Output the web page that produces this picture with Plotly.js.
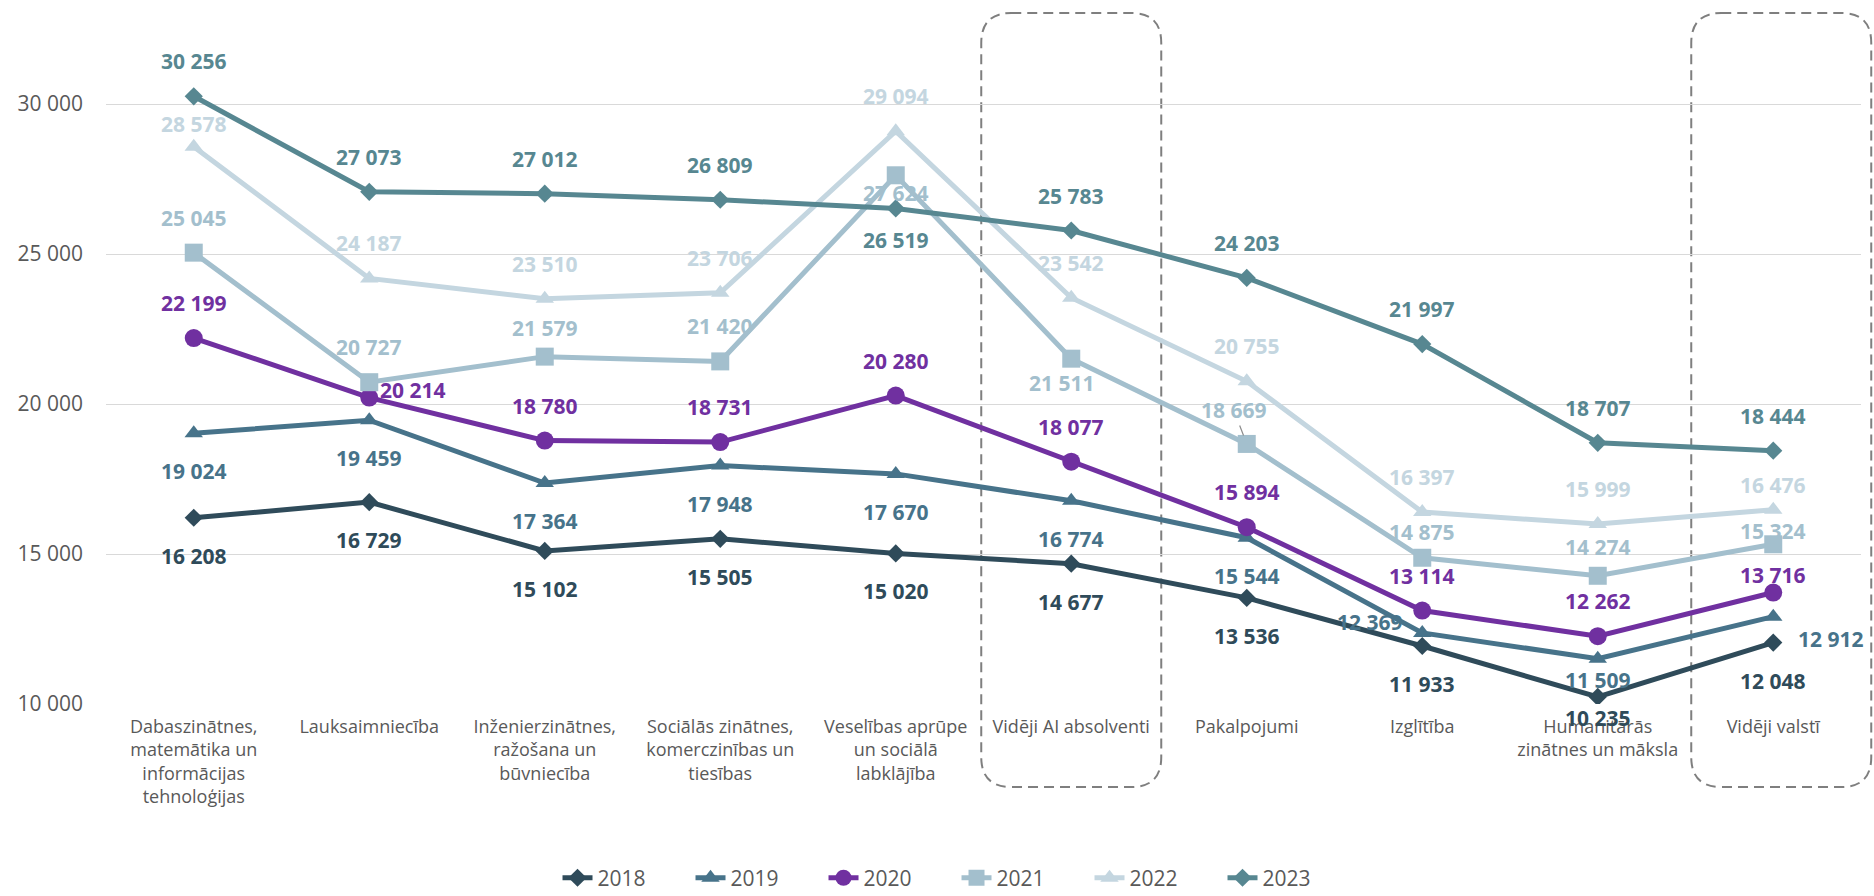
<!DOCTYPE html>
<html><head><meta charset="utf-8">
<script src="https://cdn.plot.ly/plotly-3.0.1.min.js"></script>
<style>html,body{margin:0;padding:0;background:#fff}#chart{width:1874px;height:896px}</style>
</head><body><div id="chart"></div>
<script>
// ---------- data ----------
const categories = [
  "Dabaszinātnes,<br>matemātika un<br>informācijas<br>tehnoloģijas",
  "Lauksaimniecība",
  "Inženierzinātnes,<br>ražošana un<br>būvniecība",
  "Sociālās zinātnes,<br>komerczinības un<br>tiesības",
  "Veselības aprūpe<br>un sociālā<br>labklājība",
  "Vidēji AI absolventi",
  "Pakalpojumi",
  "Izglītība",
  "Humanitārās<br>zinātnes un māksla",
  "Vidēji valstī"
];
const seriesNames = ["2018", "2019", "2020", "2021", "2022", "2023"];
const v2018 = [16208, 16729, 15102, 15505, 15020, 14677, 13536, 11933, 10235, 12048];
const v2019 = [19024, 19459, 17364, 17948, 17670, 16774, 15544, 12369, 11509, 12912];
const v2020 = [22199, 20214, 18780, 18731, 20280, 18077, 15894, 13114, 12262, 13716];
const v2021 = [25045, 20727, 21579, 21420, 27624, 21511, 18669, 14875, 14274, 15324];
const v2022 = [28578, 24187, 23510, 23706, 29094, 23542, 20755, 16397, 15999, 16476];
const v2023 = [30256, 27073, 27012, 26809, 26519, 25783, 24203, 21997, 18707, 18444];
const yTicks = [10000, 15000, 20000, 25000, 30000];
const highlighted = [5, 9]; // category indices framed by dashed boxes

// ---------- styles ----------
const values = [v2018, v2019, v2020, v2021, v2022, v2023];
const colors = ["#2F4B5A", "#47738A", "#7030A0", "#A3BFCD", "#C4D6E0", "#578791"];
const symbols = ["diamond", "triangle-up", "circle", "square", "triangle-up", "diamond"];
const msizes = [14, 16, 18, 18, 16, 14];
const defaultDy = [-38, -38, 35, 35, 35, 35];   // label offset in px (positive = up)
// exceptions: [series, index, dx, dy, leader]
const labelTweaks = [
  [5, 4, 0, -32],
  [4, 0, 0, 23], [4, 9, 0, 25],
  [3, 2, 0, 29], [3, 4, 0, -18], [3, 5, -9, -24], [3, 6, -13, 34, true],
  [3, 7, 0, 26], [3, 8, 0, 29], [3, 9, 0, 13],
  [2, 1, 44, 8], [2, 9, 0, 18],
  [1, 7, -52, 11], [1, 8, 0, -21], [1, 9, 58, -22],
  [0, 8, 0, -21]
];

const fmt = v => String(v).replace(/\B(?=(\d{3})+(?!\d))/g, " ");

const traces = values.map((vals, s) => ({
  type: "scatter", mode: "lines+markers", name: seriesNames[s],
  x: categories, y: vals,
  line: {color: colors[s], width: 5},
  marker: {color: colors[s], symbol: symbols[s], size: msizes[s]},
  hoverinfo: "x+y+name"
}));

const annotations = [];
values.forEach((vals, s) => {
  vals.forEach((v, i) => {
    let dx = 0, dy = defaultDy[s], leader = false;
    labelTweaks.forEach(t => { if (t[0] === s && t[1] === i) { dx = t[2]; dy = t[3]; leader = !!t[4]; } });
    const a = {
      x: categories[i], y: v, xref: "x", yref: "y",
      text: fmt(v), font: {family: "Open Sans, sans-serif", size: 21, color: colors[s], weight: 700},
    };
    if (leader) {
      Object.assign(a, {showarrow: true, ax: dx, ay: -dy, arrowhead: 0, arrowwidth: 1.2,
        arrowcolor: "#8C8C8C", standoff: 9});
    } else {
      Object.assign(a, {showarrow: false, xshift: dx, yshift: dy});
    }
    annotations.push(a);
  });
});

// geometry of the plot area (px)
const L = 106, R = 13, T = 14, B = 192, W = 1874, H = 896;
const pw = W - L - R, ph = H - T - B;
const boxDx = [0, 8];
const shapes = highlighted.map((ci, k) => {
  const cx = (ci + 0.5) / categories.length + boxDx[k] / pw;
  const hw = 90 / pw;
  const x0 = cx - hw, x1 = cx + hw;
  const yt = (ph + 1) / ph, yb = -83 / ph;
  const rx = 30 / pw, ry = 30 / ph;
  const p = `M ${x0 + rx},${yt} L ${x1 - rx},${yt} Q ${x1},${yt} ${x1},${yt - ry} ` +
    `L ${x1},${yb + ry} Q ${x1},${yb} ${x1 - rx},${yb} L ${x0 + rx},${yb} ` +
    `Q ${x0},${yb} ${x0},${yb + ry} L ${x0},${yt - ry} Q ${x0},${yt} ${x0 + rx},${yt} Z`;
  return {type: "path", xref: "paper", yref: "paper", path: p, layer: "below",
    line: {color: "#7F7F7F", width: 2, dash: "10px,6px"}, fillcolor: "rgba(0,0,0,0)"};
});

const layout = {
  width: W, height: H,
  margin: {l: L, r: R, t: T, b: B},
  paper_bgcolor: "#ffffff", plot_bgcolor: "rgba(0,0,0,0)",
  font: {family: "Open Sans, sans-serif", color: "#595959"},
  separators: ", ",
  showlegend: true,
  legend: {
    orientation: "h", xref: "container", yref: "container",
    x: 0.2975, xanchor: "left", y: 0.02, yanchor: "middle",
    font: {size: 21, color: "#595959"}, entrywidth: 88, entrywidthmode: "pixels"
  },
  xaxis: {
    type: "category", range: [-0.5, categories.length - 0.5],
    showgrid: false, zeroline: false, showline: false, ticks: "",
    tickfont: {size: 18, color: "#595959"}, ticklabelstandoff: 10, fixedrange: true
  },
  yaxis: {
    range: [10000, 33000], tickvals: yTicks, tickformat: ",",
    showgrid: true, gridcolor: "#D9D9D9", gridwidth: 1.3, zeroline: false, showline: false,
    ticks: "", tickfont: {size: 21, color: "#595959"}, ticklabelstandoff: 22, fixedrange: true
  },
  annotations: annotations,
  shapes: shapes
};

Plotly.newPlot("chart", traces, layout, {displayModeBar: false, responsive: false});
</script>
</body></html>
